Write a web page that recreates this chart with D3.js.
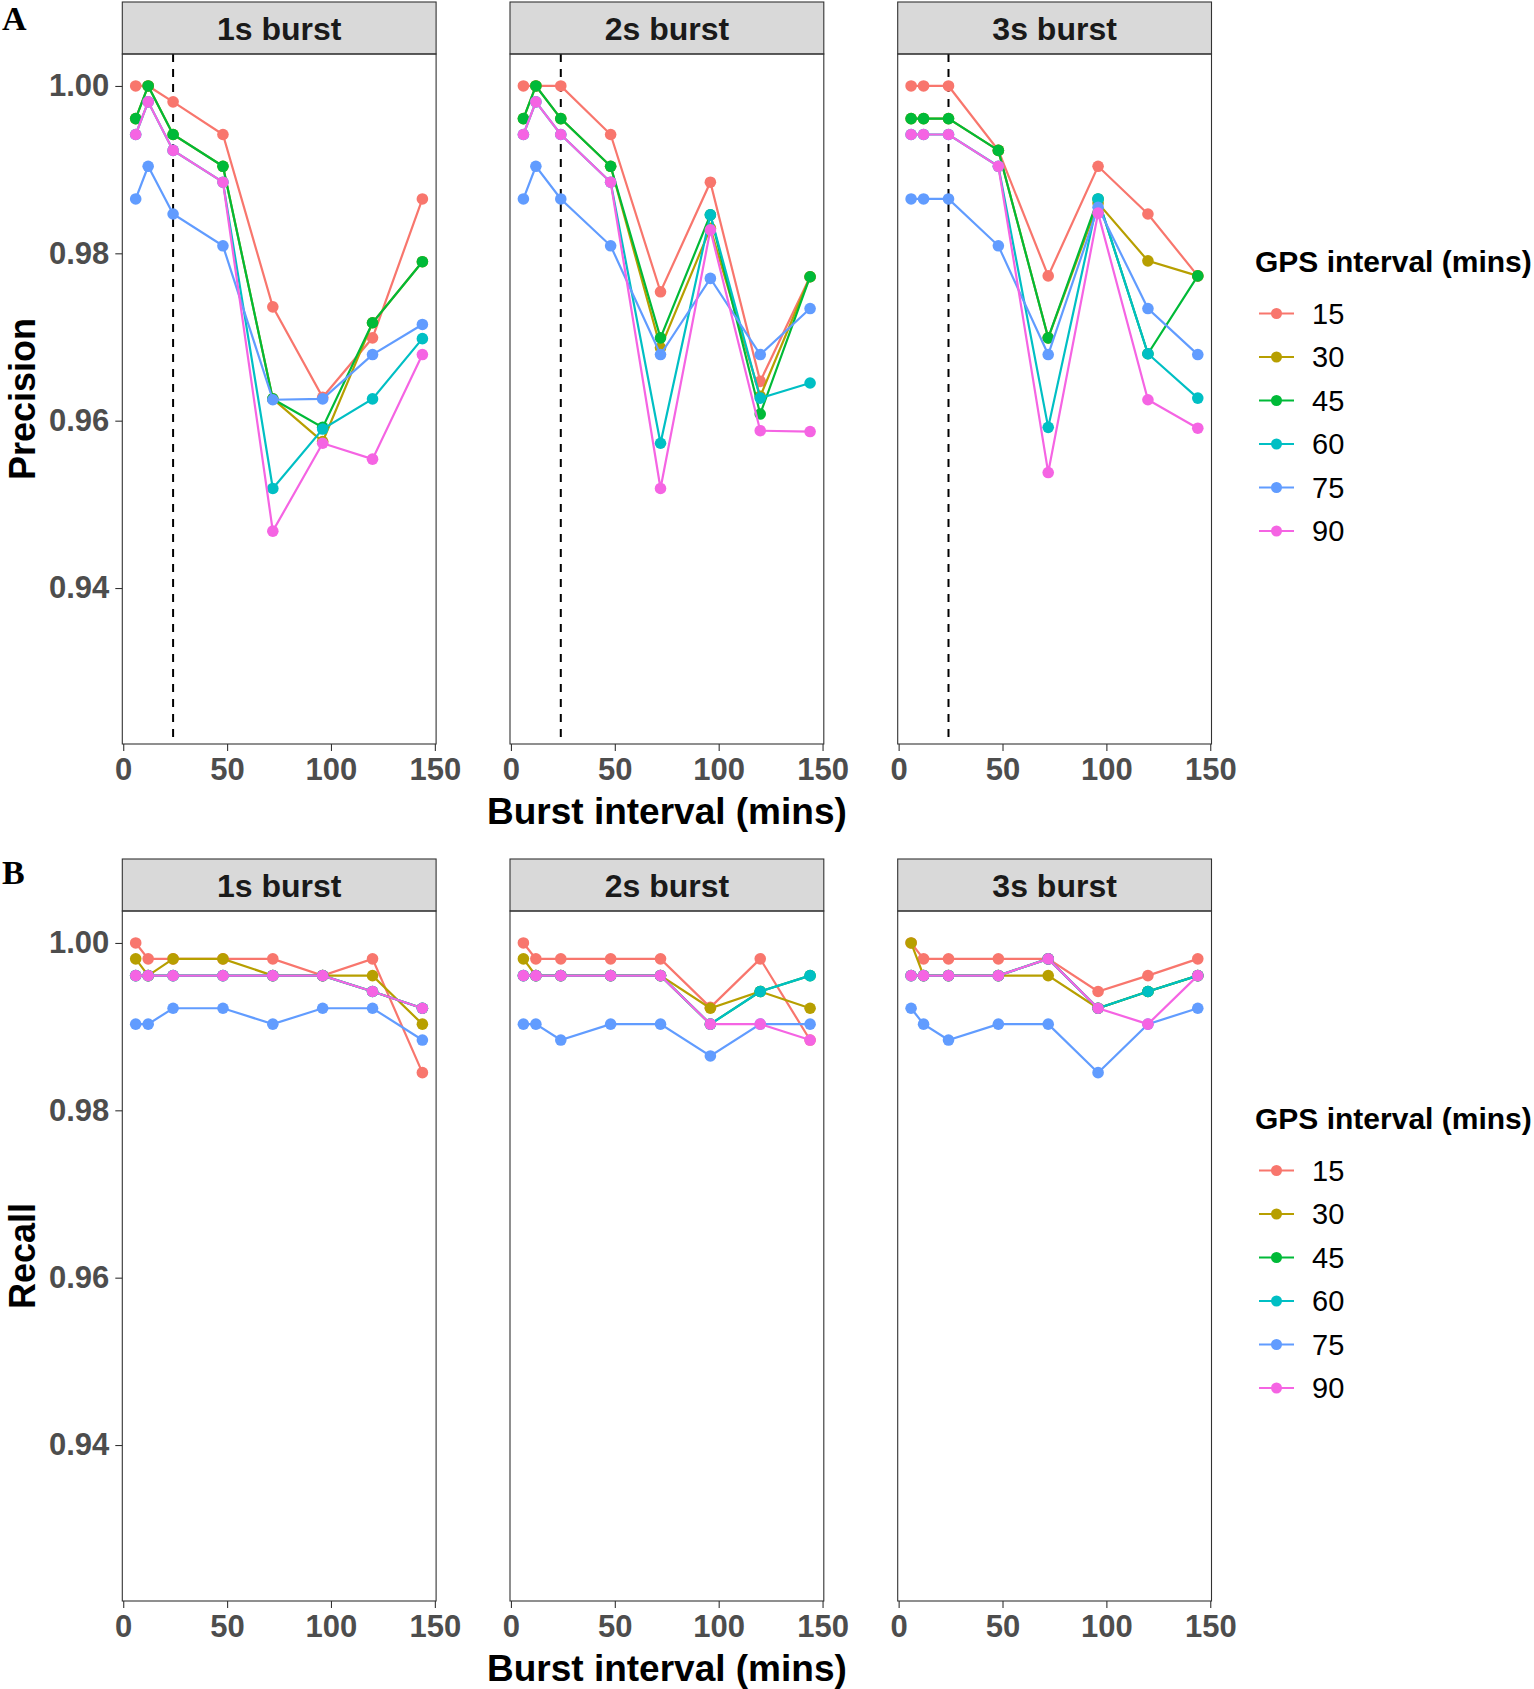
<!DOCTYPE html>
<html>
<head>
<meta charset="utf-8">
<script src="https://cdn.jsdelivr.net/npm/d3@7"></script>
<style>
  html, body { margin: 0; padding: 0; background: #fff; }
  svg { display: block; }
  text { font-family: "Liberation Sans", Arial, Helvetica, sans-serif; }
</style>
</head>
<body>
<svg id="chart" width="1534" height="1689"></svg>
<script>
// ---------------- DATA ----------------
const burstIntervals = [6, 12, 24, 48, 72, 96, 120, 144];
const gpsIntervals = [15, 30, 45, 60, 75, 90];
const facetLabels = ["1s burst", "2s burst", "3s burst"];
const seriesColors = ["#F8766D", "#B79F00", "#00BA38", "#00BFC4", "#619CFF", "#F564E3"];
const yTickValues = [0.94, 0.96, 0.98, 1.00];
const xTickValues = [0, 50, 100, 150];
const referenceBurst = 24; // dashed line (precision only)

// Precision, one row per GPS interval (15,30,45,60,75,90)
const precision1s = [
  [1.0000, 1.0000, 0.9981, 0.9942, 0.9736, 0.9628, 0.9699, 0.9865],
  [0.9961, 1.0000, 0.9942, 0.9904, 0.9626, 0.9575, 0.9717, 0.9790],
  [0.9961, 1.0000, 0.9942, 0.9904, 0.9626, 0.9592, 0.9717, 0.9790],
  [0.9942, 0.9981, 0.9923, 0.9885, 0.9519, 0.9590, 0.9626, 0.9698],
  [0.9865, 0.9904, 0.9847, 0.9809, 0.9625, 0.9626, 0.9679, 0.9715],
  [0.9942, 0.9981, 0.9923, 0.9885, 0.9468, 0.9573, 0.9554, 0.9679]
];
const precision2s = [
  [1.0000, 1.0000, 1.0000, 0.9942, 0.9754, 0.9885, 0.9647, 0.9772],
  [0.9961, 1.0000, 0.9961, 0.9904, 0.9687, 0.9830, 0.9629, 0.9772],
  [0.9961, 1.0000, 0.9961, 0.9904, 0.9699, 0.9846, 0.9608, 0.9772],
  [0.9942, 0.9981, 0.9942, 0.9885, 0.9573, 0.9846, 0.9627, 0.9645],
  [0.9865, 0.9904, 0.9865, 0.9809, 0.9679, 0.9770, 0.9679, 0.9734],
  [0.9942, 0.9981, 0.9942, 0.9885, 0.9519, 0.9828, 0.9588, 0.9587]
];
const precision3s = [
  [1.0000, 1.0000, 1.0000, 0.9923, 0.9773, 0.9904, 0.9847, 0.9773],
  [0.9961, 0.9961, 0.9961, 0.9923, 0.9699, 0.9860, 0.9791, 0.9773],
  [0.9961, 0.9961, 0.9961, 0.9923, 0.9699, 0.9865, 0.9680, 0.9773],
  [0.9942, 0.9942, 0.9942, 0.9904, 0.9592, 0.9865, 0.9680, 0.9627],
  [0.9865, 0.9865, 0.9865, 0.9809, 0.9679, 0.9855, 0.9734, 0.9679],
  [0.9942, 0.9942, 0.9942, 0.9904, 0.9538, 0.9848, 0.9625, 0.9591]
];

// Recall, one row per GPS interval (15,30,45,60,75,90)
const recall1s = [
  [1.0000, 0.9981, 0.9981, 0.9981, 0.9981, 0.9961, 0.9981, 0.9845],
  [0.9981, 0.9961, 0.9981, 0.9981, 0.9961, 0.9961, 0.9961, 0.9903],
  [0.9961, 0.9961, 0.9961, 0.9961, 0.9961, 0.9961, 0.9942, 0.9922],
  [0.9961, 0.9961, 0.9961, 0.9961, 0.9961, 0.9961, 0.9942, 0.9922],
  [0.9903, 0.9903, 0.9922, 0.9922, 0.9903, 0.9922, 0.9922, 0.9884],
  [0.9961, 0.9961, 0.9961, 0.9961, 0.9961, 0.9961, 0.9942, 0.9922]
];
const recall2s = [
  [1.0000, 0.9981, 0.9981, 0.9981, 0.9981, 0.9923, 0.9981, 0.9884],
  [0.9981, 0.9961, 0.9961, 0.9961, 0.9961, 0.9922, 0.9942, 0.9922],
  [0.9961, 0.9961, 0.9961, 0.9961, 0.9961, 0.9903, 0.9942, 0.9961],
  [0.9961, 0.9961, 0.9961, 0.9961, 0.9961, 0.9903, 0.9942, 0.9961],
  [0.9903, 0.9903, 0.9884, 0.9903, 0.9903, 0.9865, 0.9903, 0.9903],
  [0.9961, 0.9961, 0.9961, 0.9961, 0.9961, 0.9903, 0.9903, 0.9884]
];
const recall3s = [
  [1.0000, 0.9981, 0.9981, 0.9981, 0.9981, 0.9942, 0.9961, 0.9981],
  [1.0000, 0.9961, 0.9961, 0.9961, 0.9961, 0.9922, 0.9942, 0.9961],
  [0.9961, 0.9961, 0.9961, 0.9961, 0.9981, 0.9922, 0.9942, 0.9961],
  [0.9961, 0.9961, 0.9961, 0.9961, 0.9981, 0.9922, 0.9942, 0.9961],
  [0.9922, 0.9903, 0.9884, 0.9903, 0.9903, 0.9845, 0.9903, 0.9922],
  [0.9961, 0.9961, 0.9961, 0.9961, 0.9981, 0.9922, 0.9903, 0.9961]
];

const rows = [
  { tag: "A", yTitle: "Precision", facets: [precision1s, precision2s, precision3s], refLine: true },
  { tag: "B", yTitle: "Recall",    facets: [recall1s, recall2s, recall3s],          refLine: false }
];

// ---------------- LAYOUT ----------------
const svg = d3.select("#chart");
const rowOffset = 857;
const facetLeft0 = 122.3, facetStep = 387.7, facetWidth = 313.8;
const stripTop = 2, stripHeight = 52;
const panelTop = 54, panelBottom = 744;
const color = d3.scaleOrdinal().domain(gpsIntervals).range(seriesColors);
const border = "#333333";
const pointR = 5.8, lineW = 2.2;

rows.forEach((row, r) => {
  const oy = r * rowOffset;
  const g = svg.append("g");
  const y = d3.scaleLinear().domain([0.92136, 1.00382]).range([panelBottom + oy, panelTop + oy]);

  // panel tag
  g.append("text").attr("x", 2).attr("y", 30 + oy - (r ? 3 : 0))
    .style("font-family", "'Liberation Serif', 'Times New Roman', serif")
    .style("font-weight", "bold").style("font-size", "34px").text(row.tag);

  // y title
  const cy = (panelTop + panelBottom) / 2 + oy;
  g.append("text").attr("transform", `translate(35,${cy}) rotate(-90)`)
    .attr("text-anchor", "middle").style("font-weight", "bold").style("font-size", "36px")
    .attr("fill", "#000").text(row.yTitle);

  row.facets.forEach((data, f) => {
    const left = facetLeft0 + f * facetStep;
    const x = d3.scaleLinear().domain([-0.45, 150.6]).range([left, left + facetWidth]);
    const fg = g.append("g");

    // panel background
    fg.append("rect").attr("x", left).attr("y", panelTop + oy)
      .attr("width", facetWidth).attr("height", panelBottom - panelTop)
      .attr("fill", "#fff");

    // strip
    fg.append("rect").attr("x", left).attr("y", stripTop + oy)
      .attr("width", facetWidth).attr("height", stripHeight)
      .attr("fill", "#D9D9D9").attr("stroke", border).attr("stroke-width", 1.1);
    fg.append("text").attr("x", left + facetWidth / 2).attr("y", stripTop + oy + 38)
      .attr("text-anchor", "middle").style("font-weight", "bold").style("font-size", "32px")
      .attr("fill", "#1A1A1A").text(facetLabels[f]);

    // reference dashed line
    if (row.refLine) {
      fg.append("line").attr("x1", x(referenceBurst)).attr("x2", x(referenceBurst))
        .attr("y1", panelTop + oy).attr("y2", panelBottom + oy)
        .attr("stroke", "#000").attr("stroke-width", 2).attr("stroke-dasharray", "8,7");
    }

    // series
    const line = d3.line().x((d, i) => x(burstIntervals[i])).y(d => y(d));
    data.forEach((vals, s) => {
      fg.append("path").datum(vals).attr("d", line).attr("fill", "none")
        .attr("stroke", color(gpsIntervals[s])).attr("stroke-width", lineW);
      fg.selectAll(null).data(vals).enter().append("circle")
        .attr("cx", (d, i) => x(burstIntervals[i])).attr("cy", d => y(d)).attr("r", pointR)
        .attr("fill", color(gpsIntervals[s]));
    });

    // panel border
    fg.append("rect").attr("x", left).attr("y", panelTop + oy)
      .attr("width", facetWidth).attr("height", panelBottom - panelTop)
      .attr("fill", "none").attr("stroke", border).attr("stroke-width", 1.1);

    // x axis
    const xa = fg.append("g").attr("transform", `translate(0,${panelBottom + oy})`)
      .call(d3.axisBottom(x).tickValues(xTickValues).tickSize(7).tickSizeOuter(0).tickPadding(7));
    xa.select(".domain").remove();
    xa.selectAll(".tick line").attr("stroke", border).attr("stroke-width", 1.1);
    xa.selectAll(".tick text").attr("fill", "#4D4D4D").style("font-weight", "bold")
      .style("font-size", "31px").style("font-family", "'Liberation Sans', Arial, sans-serif");

    // y axis (first facet only)
    if (f === 0) {
      const ya = fg.append("g").attr("transform", `translate(${left},0)`)
        .call(d3.axisLeft(y).tickValues(yTickValues).tickFormat(d3.format(".2f"))
          .tickSize(7).tickSizeOuter(0).tickPadding(6));
      ya.select(".domain").remove();
      ya.selectAll(".tick line").attr("stroke", border).attr("stroke-width", 1.1);
      ya.selectAll(".tick text").attr("fill", "#4D4D4D").style("font-weight", "bold")
        .style("font-size", "31px").style("font-family", "'Liberation Sans', Arial, sans-serif");
    }
  });

  // x title
  g.append("text").attr("x", facetLeft0 + facetStep + facetWidth / 2).attr("y", 824 + oy)
    .attr("text-anchor", "middle").style("font-weight", "bold").style("font-size", "37px")
    .attr("fill", "#000").text("Burst interval (mins)");

  // legend
  const lg = g.append("g");
  lg.append("text").attr("x", 1255).attr("y", 272 + oy).style("font-weight", "bold")
    .style("font-size", "30px").attr("fill", "#000").text("GPS interval (mins)");
  gpsIntervals.forEach((gi, i) => {
    const ly = 313.5 + i * 43.5 + oy;
    lg.append("line").attr("x1", 1259).attr("x2", 1294).attr("y1", ly).attr("y2", ly)
      .attr("stroke", color(gi)).attr("stroke-width", lineW);
    lg.append("circle").attr("cx", 1276.5).attr("cy", ly).attr("r", 5.5).attr("fill", color(gi));
    lg.append("text").attr("x", 1312).attr("y", ly).attr("dy", "0.36em")
      .style("font-size", "29px").attr("fill", "#000").text(gi);
  });
});
</script>
</body>
</html>
